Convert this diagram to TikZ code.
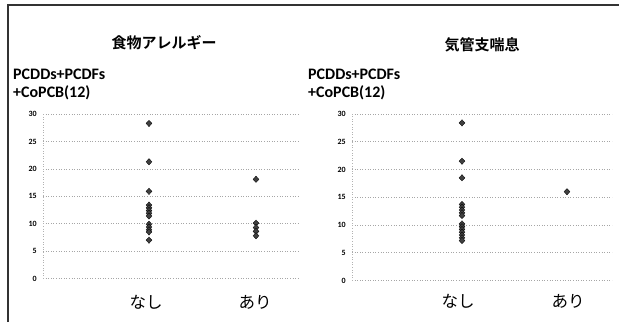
\documentclass[tikz,border=0pt]{standalone}
\usepackage{fontspec}
\setmainfont{Carlito}
\newfontfamily\jpfont{Noto Sans CJK JP}[BoldFont={Noto Sans CJK JP Bold}]
\usetikzlibrary{shapes.geometric}
\begin{document}
\begin{tikzpicture}[x=1pt,y=-1pt]
\useasboundingbox (0,0) rectangle (619,322);
\tikzset{
 gridln/.style={gray!70, dotted, line width=0.6},
 axisln/.style={gray!60, dotted, line width=0.6},
 ticklab/.style={font=\bfseries\fontsize{8}{9}\selectfont, anchor=east, inner sep=0},
 ptm/.style={diamond, fill=black!75, draw=black, minimum width=6, minimum height=6.5, inner sep=0, line width=0.3},
 ttl/.style={font=\jpfont\bfseries\fontsize{15}{17}\selectfont, inner sep=0},
 ylab/.style={font=\bfseries\fontsize{16}{18}\selectfont, anchor=west, inner sep=0},
 catlab/.style={font=\jpfont\fontsize{16.5}{18}\selectfont, inner sep=0},
 frameln/.style={black!80, line width=1.1},
}
% frame
\coordinate (fbl) at (8,322);
\coordinate (ftl) at (8,5);
\coordinate (ftr) at (619,5);
\draw[frameln] (fbl) -- (ftl) -- (ftr);

% ---------- left chart ----------
\node[ttl] (t1) at (164,43) {食物アレルギー};
\node[ylab] (y1a) at (13,74) {PCDDs+PCDFs};
\node[ylab] (y1b) at (13,93) {+CoPCB(12)};
\foreach \v in {0,5,...,30} {
  \coordinate (la\v) at (43,{278.5-5.48*\v});
  \coordinate (lb\v) at (300,{278.5-5.48*\v});
  \draw[gridln] (la\v) -- (lb\v);
  \node[ticklab] (lt\v) at (37,{278.5-5.48*\v}) {\v};
}
\draw[axisln] (la0) -- (la30);
\foreach \v [count=\i] in {28.3,21.3,15.9,13.4,12.9,12.4,11.9,11.4,9.9,9.4,8.9,8.5,7.0}
  \node[ptm] (ln\i) at (149,{278.5-5.48*\v}) {};
\foreach \v [count=\i] in {18.1,10.1,9.3,8.6,7.8}
  \node[ptm] (lr\i) at (256,{278.5-5.48*\v}) {};
\node[catlab] (c1a) at (146,302) {なし};
\node[catlab] (c1b) at (255,302) {あり};

% ---------- right chart ----------
\node[ttl] (t2) at (482,45) {気管支喘息};
\node[ylab] (y2a) at (308,74) {PCDDs+PCDFs};
\node[ylab] (y2b) at (308,93) {+CoPCB(12)};
\foreach \v in {0,5,...,30} {
  \coordinate (ra\v) at (352,{280.5-5.55*\v});
  \coordinate (rb\v) at (612,{280.5-5.55*\v});
  \draw[gridln] (ra\v) -- (rb\v);
  \node[ticklab] (rt\v) at (346,{280.5-5.55*\v}) {\v};
}
\draw[axisln] (ra0) -- (ra30);
\foreach \v [count=\i] in {28.4,21.5,18.5,13.7,13.2,12.7,12.2,11.7,10.2,9.7,9.2,8.7,8.2,7.7,7.2}
  \node[ptm] (rn\i) at (462,{280.5-5.55*\v}) {};
\node[ptm] (rr1) at (567,{280.5-5.55*16}) {};
\node[catlab] (c2a) at (458,301) {なし};
\node[catlab] (c2b) at (568,301) {あり};
\end{tikzpicture}
\end{document}
